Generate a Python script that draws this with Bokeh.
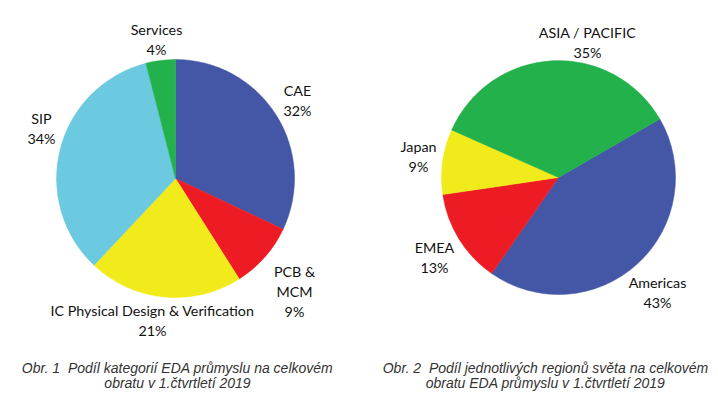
import numpy as np
from bokeh.plotting import figure
from bokeh.models import Range1d, ColumnDataSource
from bokeh.core.properties import value
from bokeh.embed import file_html
from bokeh.resources import INLINE

# ---- data ----
cat_names = ["CAE", "PCB &\nMCM", "IC Physical Design & Verification", "SIP", "Services"]
cat_values = [32, 9, 21, 34, 4]
cat_colors = ["#4456A6", "#ED1C24", "#F2EB1B", "#6CCAE0", "#23B14C"]

reg_names = ["Americas", "EMEA", "Japan", "ASIA / PACIFIC"]
reg_values = [43, 13, 9, 35]
reg_colors = ["#4456A6", "#ED1C24", "#F2EB1B", "#23B14C"]

caption1 = "Obr. 1\u00a0\u00a0Podíl kategorií EDA průmyslu na celkovém\nobratu v 1.čtvrtletí 2019"
caption2 = "Obr. 2\u00a0\u00a0Podíl jednotlivých regionů světa na celkovém\nobratu EDA průmyslu v 1.čtvrtletí 2019"

# ---- layout (pixel positions of the reference) ----
W, H = 718, 398
def fx(x): return x
def fy(y): return H - y

pie1 = dict(cx=175, cy=178, r=119, start_deg=90)
pie2 = dict(cx=558, cy=177, r=117, start_deg=30)
lab1_pos = [(297, 100), (294, 291), (152, 320), (41, 128), (156, 39)]
lab2_pos = [(657, 292), (434, 257), (418, 156), (587, 42)]

p = figure(width=W, height=H, output_backend="svg", toolbar_location=None,
           x_range=Range1d(0, W), y_range=Range1d(0, H), min_border=0)
p.axis.visible = False
p.grid.visible = False
p.outline_line_color = None
p.background_fill_color = "white"

def draw_pie(names, vals, colors, geo, positions):
    vals = np.array(vals, dtype=float)
    frac = vals / vals.sum()
    cum = np.concatenate([[0], np.cumsum(frac)])
    start = np.radians(geo["start_deg"]) - cum[:-1] * 2 * np.pi
    end = np.radians(geo["start_deg"]) - cum[1:] * 2 * np.pi
    src = ColumnDataSource(dict(start=start, end=end, color=colors))
    p.wedge(x=fx(geo["cx"]), y=fy(geo["cy"]), radius=geo["r"],
            start_angle="start", end_angle="end", direction="clock",
            fill_color="color", line_color="color", line_width=0.5, source=src)
    texts = [f"{n}\n{int(v)}%" for n, v in zip(names, vals)]
    lsrc = ColumnDataSource(dict(x=[fx(a) for a, b in positions],
                                 y=[fy(b) for a, b in positions], t=texts))
    p.text(x="x", y="y", text="t", source=lsrc, text_align="center",
           text_baseline="middle", text_font=value("Lato"),
           text_font_size="14.3px", text_color="#111111", text_line_height=1.18)

draw_pie(cat_names, cat_values, cat_colors, pie1, lab1_pos)
draw_pie(reg_names, reg_values, reg_colors, pie2, lab2_pos)

csrc = ColumnDataSource(dict(x=[fx(177), fx(545)], y=[fy(375), fy(375)],
                             t=[caption1, caption2]))
p.text(x="x", y="y", text="t", source=csrc, text_align="center",
       text_baseline="middle", text_font=value("Liberation Sans"),
       text_font_style="italic", text_font_size="14px", text_color="#333333",
       text_line_height=0.95)

open("out.html", "w").write(file_html(p, INLINE))
